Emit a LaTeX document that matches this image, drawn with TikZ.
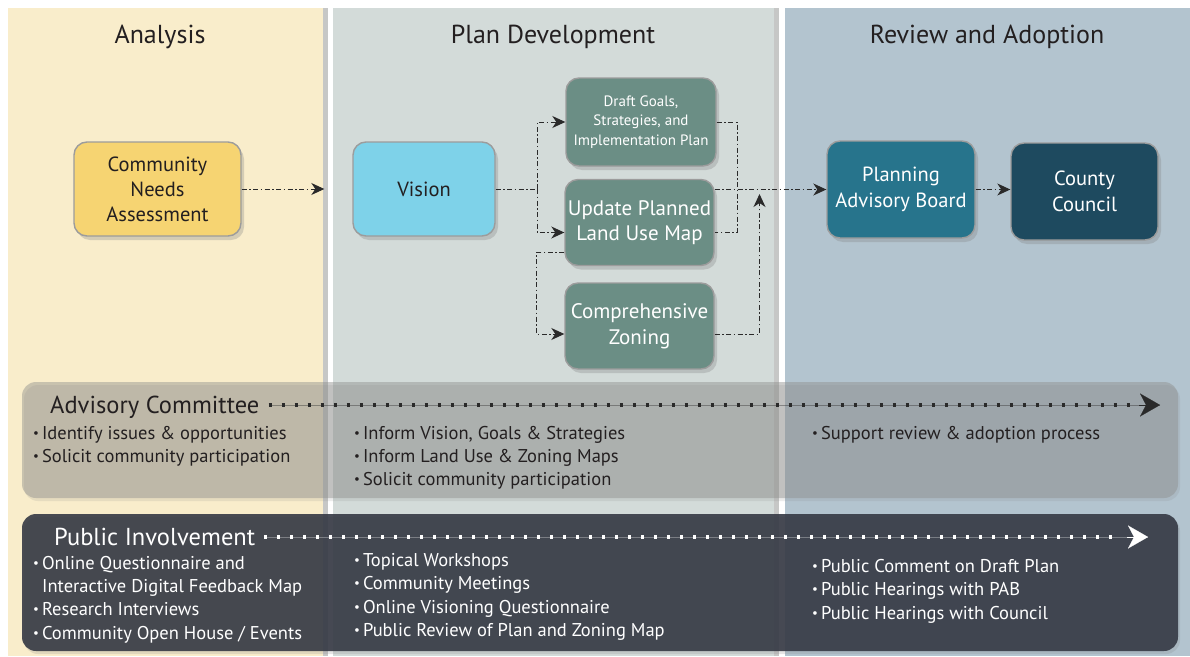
\documentclass[tikz,border=0pt]{standalone}
\usepackage{fontspec}
\usepackage{graphicx}
\setmainfont{PT Sans}
\usetikzlibrary{arrows.meta,shadows}
\definecolor{colA}{HTML}{F9EDCB}
\definecolor{colP}{HTML}{D3DBD9}
\definecolor{colR}{HTML}{B3C4CF}
\definecolor{sepgrey}{HTML}{C6C7C6}
\definecolor{titlec}{HTML}{231F20}
\definecolor{boxborder}{HTML}{9C9C9C}
\definecolor{cnaF}{HTML}{F6D472}
\definecolor{visF}{HTML}{7ED2E9}
\definecolor{grnF}{HTML}{6B8E85}
\definecolor{pabF}{HTML}{27748C}
\definecolor{ccF}{HTML}{1E4A5F}
\definecolor{flowc}{HTML}{2A2A2A}
\definecolor{advF}{HTML}{8E8E8C}
\definecolor{pubF}{HTML}{353944}
\newcommand\bul{\raisebox{0.15ex}{\scalebox{0.7}{•}}\hspace{3pt}}
\begin{document}
\begin{tikzpicture}[x=1pt,y=-1pt,
  box/.style={rounded corners=13pt, draw=boxborder, line width=1.4pt, inner sep=0pt, align=center,
    drop shadow={shadow xshift=3pt, shadow yshift=-4pt, opacity=0.3}},
  flowline/.style={draw=flowc, line width=1pt, dash pattern=on 5pt off 2.5pt on 1.5pt off 2.5pt},
  flow/.style={flowline, -{Stealth[length=13pt,width=12pt,inset=4pt]}},
  coltitle/.style={font=\fontsize{26}{30}\selectfont, text=titlec, inner sep=0pt},
  item/.style={anchor=base west, inner sep=0pt, font=\fontsize{18.5}{20}\selectfont},
  bandtitle/.style={anchor=base west, inner sep=0pt, font=\fontsize{24.5}{28}\selectfont},
  band/.style={rounded corners=14pt, inner sep=0pt},
  dots/.style={line width=4.5pt, dash pattern=on 3pt off 10pt},
]
\useasboundingbox (0,0) rectangle (1190,656);
% columns
\fill[white] (0,0) rectangle (1190,656);
\fill[colA] (8,8) rectangle (323,656);
\fill[sepgrey] (323,8) rectangle (328,656);
\fill[colP] (333,8) rectangle (774,656);
\fill[sepgrey] (774,8) rectangle (779,656);
\fill[colR] (785,8) rectangle (1190,656);
% column titles
\node[coltitle] (tA) at (160,37) {Analysis};
\node[coltitle] (tP) at (553,37) {Plan Development};
\node[coltitle] (tR) at (987,37) {Review and Adoption};
% process boxes
\node[box, fill=cnaF, text=titlec, minimum width=167pt, minimum height=94pt,
  font=\fontsize{20.5}{25}\selectfont] (cna) at (157.5,189) {Community\\Needs\\Assessment};
\node[box, fill=visF, text=titlec, minimum width=142pt, minimum height=94pt,
  font=\fontsize{20.5}{25}\selectfont] (vision) at (424,189) {Vision};
\node[box, fill=grnF, text=white, minimum width=150pt, minimum height=88pt,
  font=\fontsize{15}{19.5}\selectfont] (draft) at (641,122) {Draft Goals,\\Strategies, and\\Implementation Plan};
\node[box, fill=grnF, text=white, minimum width=149pt, minimum height=86pt,
  font=\fontsize{21}{25.5}\selectfont] (update) at (639.5,222.5) {Update Planned\\Land Use Map};
\node[box, fill=grnF, text=white, minimum width=149pt, minimum height=86pt,
  font=\fontsize{21}{25.5}\selectfont] (comp) at (639.5,326) {Comprehensive\\Zoning};
\node[box, fill=pabF, text=white, minimum width=148pt, minimum height=97pt,
  font=\fontsize{20.5}{26}\selectfont] (pab) at (901,189.5) {Planning\\Advisory Board};
\node[box, fill=ccF, text=white, minimum width=147pt, minimum height=97pt,
  font=\fontsize{20.5}{26}\selectfont] (cc) at (1084.5,191.5) {County\\Council};
% junction coordinates
\coordinate (j1) at (537,189);
\coordinate (j3) at (737,232.5);
\coordinate (j4) at (759.5,194);
% connectors
\draw[flow, shorten >=28pt] (cna.east) -- (vision.west);
\draw[flowline] (vision.east) -- (j1);
\draw[flow] (j1) |- (draft.west);
\draw[flow] (j1) |- ([yshift=-10pt]update.west);
\draw[flow] ([yshift=-30pt]update.west) -- ++(-28,0) |- ([yshift=-8pt]comp.west);
\draw[flowline] (draft.east) -| (j3) -- ([yshift=-10pt]update.east);
\draw[flow] (update.east |- pab.west) -- (pab.west);
\draw[flow] ([yshift=-8pt]comp.east) -| (j4);
\draw[flow] (pab.east) -- (pab.east -| cc.west);
% advisory committee band
\node[band, fill=advF, fill opacity=0.45, minimum width=1156pt, minimum height=116pt,
  drop shadow={shadow xshift=2pt, shadow yshift=-3pt, opacity=0.15}] (adv) at (600,440) {};
\node[bandtitle, text=titlec] (advt) at (50,413) {Advisory Committee};
\coordinate (adve) at (1160,405);
\draw[flowc, line width=0.6pt, opacity=0.4] (advt.east |- adve) ++(9,0) -- (adve);
\draw[flowc, dots] ([xshift=9pt]advt.east |- adve) -- ([xshift=-26pt]adve);
\draw[flowc, -{Stealth[length=20pt,width=23pt,inset=6pt]}, line width=0.1pt] ([xshift=-21pt]adve) -- (adve);
\node[item, text=titlec] (a1) at (33,439) {\bul Identify issues \& opportunities};
\node[item, text=titlec] (a2) at (33,462) {\bul Solicit community participation};
\node[item, text=titlec] (a3) at (354,439) {\bul Inform Vision, Goals \& Strategies};
\node[item, text=titlec] (a4) at (354,462) {\bul Inform Land Use \& Zoning Maps};
\node[item, text=titlec] (a5) at (354,485) {\bul Solicit community participation};
\node[item, text=titlec] (a6) at (812,439) {\bul Support review \& adoption process};
% public involvement band
\node[band, fill=pubF, fill opacity=0.9, minimum width=1156pt, minimum height=137pt,
  drop shadow={shadow xshift=2pt, shadow yshift=-3pt, opacity=0.2}] (pub) at (600,582.5) {};
\node[bandtitle, text=white] (pubt) at (54,545) {Public Involvement};
\coordinate (pube) at (1148,537);
\draw[white, line width=0.6pt, opacity=0.3] (pubt.east |- pube) ++(9,0) -- (pube);
\draw[white, dots] ([xshift=9pt]pubt.east |- pube) -- ([xshift=-26pt]pube);
\draw[white, -{Stealth[length=20pt,width=23pt,inset=6pt]}, line width=0.1pt] ([xshift=-21pt]pube) -- (pube);
\node[item, text=white] (p1) at (33,569) {\bul Online Questionnaire and};
\node[item, text=white] (p2) at (42,592) {Interactive Digital Feedback Map};
\node[item, text=white] (p3) at (33,615) {\bul Research Interviews};
\node[item, text=white] (p4) at (33,639) {\bul Community Open House / Events};
\node[item, text=white] (p5) at (354,566) {\bul Topical Workshops};
\node[item, text=white] (p6) at (354,589) {\bul Community Meetings};
\node[item, text=white] (p7) at (354,613) {\bul Online Visioning Questionnaire};
\node[item, text=white] (p8) at (354,636) {\bul Public Review of Plan and Zoning Map};
\node[item, text=white] (p9) at (812,572) {\bul Public Comment on Draft Plan};
\node[item, text=white] (p10) at (812,595) {\bul Public Hearings with PAB};
\node[item, text=white] (p11) at (812,619) {\bul Public Hearings with Council};
\end{tikzpicture}
\end{document}
